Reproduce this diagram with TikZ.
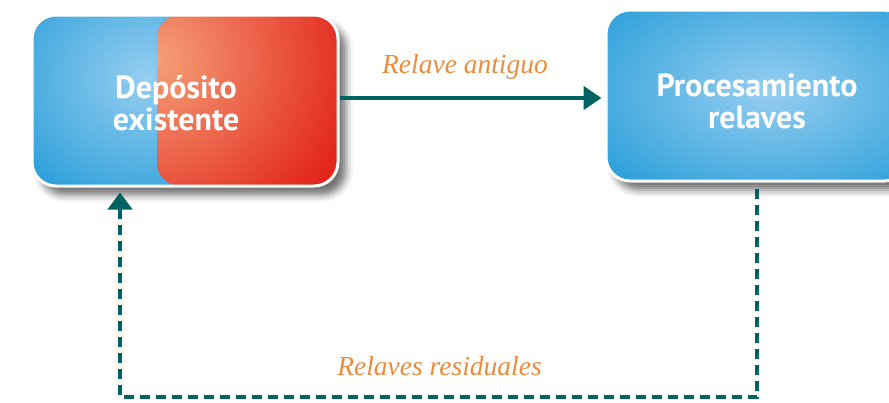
\documentclass[tikz,border=0pt]{standalone}
\usepackage{fontspec}
\setmainfont{Liberation Serif}
\newfontfamily\boxfont{PT Sans}
\usetikzlibrary{arrows.meta,shadows.blur,calc}
\definecolor{blueEdge}{RGB}{28,152,214}
\definecolor{blueLight}{RGB}{150,206,240}
\definecolor{redMain}{RGB}{227,38,28}
\definecolor{redLight}{RGB}{244,160,120}
\definecolor{flowteal}{RGB}{0,99,99}
\definecolor{lblorange}{RGB}{234,140,60}
\tikzset{
  procbox/.style={draw=white, line width=3pt, rounded corners=24pt, inner sep=0pt,
    blur shadow={shadow xshift=8pt, shadow yshift=-9pt, shadow blur radius=7pt, shadow opacity=55}},
  boxtext/.style={text=white, font=\boxfont\bfseries\fontsize{32}{32}\selectfont, align=center},
  flowlbl/.style={text=lblorange, font=\itshape\fontsize{27.5}{30}\selectfont},
  solidflow/.style={draw=flowteal, line width=4.5pt, -{Triangle[length=18pt,width=23pt]}},
  dashflow/.style={draw=flowteal, line width=4.8pt, dash pattern=on 10pt off 6pt,
    -{Triangle[length=17pt,width=24pt]}}
}
\begin{document}
\begin{tikzpicture}[x=1pt,y=-1pt]
\useasboundingbox (0,0) rectangle (889,402);
\begin{scope}
\clip (0,0) rectangle (889,402);
% left box
\node[procbox, minimum width=306pt, minimum height=171pt,
  path picture={
    \fill[blueEdge] ($(path picture bounding box.center)+(-200,-120)$) rectangle ($(path picture bounding box.center)+(200,120)$);
    \shade[inner color=blueLight, outer color=blueEdge]
      ($(path picture bounding box.center)+(-38,-22)$) ellipse (190 and 160);
    \begin{scope}
      \clip[rounded corners=24pt] ($(path picture bounding box.center)+(-28,-85.5)$) rectangle ($(path picture bounding box.center)+(200,85.5)$);
      \fill[redMain] ($(path picture bounding box.center)+(-40,-120)$) rectangle ($(path picture bounding box.center)+(200,120)$);
      \shade[inner color=redLight, outer color=redMain]
        ($(path picture bounding box.center)+(-30,-40)$) ellipse (205 and 195);
    \end{scope}
  }] (dep) at (185,100.5) {};
% right box
\node[procbox, minimum width=302pt, minimum height=171pt,
  path picture={
    \fill[blueEdge] ($(path picture bounding box.center)+(-200,-120)$) rectangle ($(path picture bounding box.center)+(200,120)$);
    \shade[inner color=blueLight, outer color=blueEdge]
      ($(path picture bounding box.center)+(13,-5)$) ellipse (250 and 145);
  }] (proc) at (757,95.5) {};
\end{scope}
\node[boxtext] (deptxt) at (176,103) {Depósito\\existente};
\node[boxtext] (proctxt) at (757,101) {Procesamiento\\relaves};
% connectors
\draw[solidflow, shorten >=3pt] ([yshift=2.5pt]dep.east) -- ([yshift=2.5pt]dep.east -| proc.west);
\coordinate (botright) at (757,397);
\coordinate (botleft) at (120,397);
\draw[dashflow] ([yshift=-6pt]proc.south) -- (botright) -- (botleft) -- ([xshift=-65pt,yshift=-5pt]dep.south);
% labels
\node[flowlbl, anchor=base] (lbl1) at (465,73) {Relave antiguo};
\node[flowlbl, anchor=base] (lbl2) at (439.5,375) {Relaves residuales};
\end{tikzpicture}
\end{document}
